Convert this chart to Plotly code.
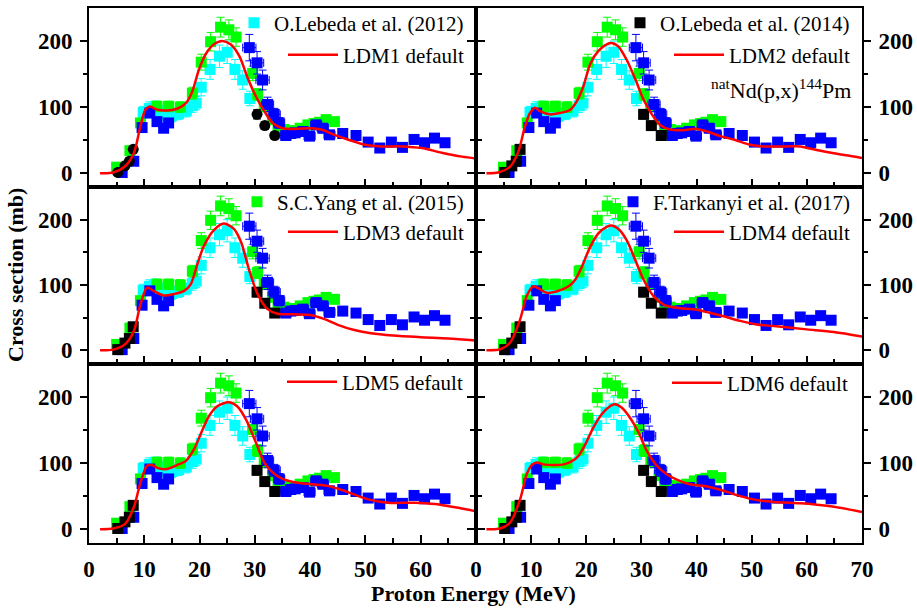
import plotly.graph_objects as go

# ---------------- data ----------------
# O.Lebeda et al. (2012) - cyan
E_leb12 = [9.8, 10.9, 11.9, 12.9, 13.9, 15.0, 16.2, 17.6, 18.7, 19.4, 20.3, 21.9, 23.6, 25.0, 26.4, 27.8, 29.1]
S_leb12 = [92, 98, 99, 94, 88, 87, 90, 94, 102, 106, 130, 157, 177, 183, 157, 141, 113]
ERR_leb12 = [9, 10, 10, 9, 9, 9, 9, 9, 10, 10, 13, 15, 17, 17, 15, 14, 11]

# O.Lebeda et al. (2014) - black
E_leb14 = [5.2, 6.5, 7.3, 8.0, 30.4, 31.8, 33.6]
S_leb14 = [1, 11, 18, 36, 89, 72, 57]
ERR_leb14 = [2, 2, 3, 4, 7, 6, 5]

# S.C.Yang et al. (2015) - green
E_yang = [5.0, 7.4, 9.3, 12.3, 14.4, 16.5, 18.7, 20.3, 22.0, 23.8, 25.3, 26.6, 29.6, 30.5, 31.7,
          33.2, 34.2, 35.2, 36.2, 37.2, 38.2, 39.6, 40.7, 41.7, 42.9, 44.4]
S_yang = [9, 34, 76, 101, 101, 100, 121, 168, 199, 221, 217, 206, 151, 119, 101,
          81, 72, 66, 64, 64, 68, 73, 75, 77, 81, 78]
ERR_yang = [4, 5, 6, 8, 8, 8, 9, 12, 14, 15, 15, 14, 11, 9, 8,
            6, 6, 5, 5, 5, 5, 6, 6, 6, 6, 6]

# F.Tarkanyi et al. (2017) - blue
E_tark = [6.0, 8.1, 9.6, 11.0, 12.3, 13.5, 14.4,
          29.0, 30.4, 31.4, 32.3, 33.5, 34.4, 35.6, 36.5, 37.3, 38.7, 39.9, 41.1, 42.3, 43.5,
          45.9, 48.3, 50.5, 52.6, 54.7, 56.7, 58.8, 60.7, 62.5, 64.4]
S_tark = [1, 18, 69, 91, 78, 68, 76,
          190, 167, 141, 104, 89, 76, 57, 60, 61, 63, 56, 73, 68, 58,
          60, 57, 47, 38, 47, 39, 51, 46, 53, 46]
ERRY_tark = [1, 2, 5, 6, 5, 5, 5,
             20, 17, 15, 11, 9, 8, 6, 6, 6, 6, 6, 7, 7, 6,
             6, 6, 5, 4, 5, 4, 5, 5, 5, 5]
ERRX_tark = [0, 0, 0, 0, 0, 0, 0,
             1.2, 1.2, 1.2, 1.1, 1.1, 1.0, 1.0, 1.0, 1.0, 1.0, 1.0, 1.0, 1.0, 1.0,
             0, 0, 0, 0, 0, 0, 0, 0, 0, 0]

# TALYS level density model curves
E_ldm1 = [2.0, 4.4, 6.5, 8.1, 9.3, 10.2, 11.1, 12.0, 13.5, 15.3, 16.8, 17.8, 18.7, 19.9, 21.1, 22.6, 24.1,
          25.6, 27.2, 28.7, 30.2, 31.7, 33.2, 35.0, 37.2, 40.2, 42.0, 44.4, 46.8, 49.9, 52.9, 56.5,
          60.2, 63.8, 67.5, 70.0]
S_ldm1 = [0, 1, 10, 30, 71, 96, 101, 97, 95, 96, 101, 109, 124, 157, 180, 195, 200,
          195, 177, 144, 116, 94, 76, 68, 67, 68, 66, 58, 51, 43, 40.5, 40.5,
          38, 31, 25, 22]

E_ldm2 = [1.9, 4.0, 6.2, 7.7, 8.9, 9.8, 10.7, 11.6, 13.4, 15.2, 17.1, 18.3, 19.5, 20.7, 22.2, 23.7, 24.6,
          25.8, 27.3, 28.9, 30.4, 31.9, 33.4, 35.2, 37.6, 40.0, 41.9, 44.3, 46.7, 49.7, 52.1, 56.4,
          58.8, 61.8, 64.9, 70.0]
S_ldm2 = [0, 1, 10, 33, 71, 91, 99, 94, 89, 91, 96, 109, 132, 165, 185, 195, 197,
          192, 172, 142, 111, 89, 73, 66, 65, 67, 63, 56, 51, 43, 40.5, 40.5,
          40.5, 35, 30, 23]

E_ldm3 = [2.0, 4.4, 6.5, 8.1, 9.3, 10.5, 11.7, 13.5, 15.3, 17.2, 18.4, 19.6, 20.8, 22.6, 24.4, 26.2,
          27.5, 29.0, 30.5, 32.3, 34.1, 37.0, 40.0, 42.5, 45.0, 48.0, 51.0, 55.0, 60.0, 65.0, 70.0]
S_ldm3 = [0, 1, 9, 29, 70, 96, 91, 84, 86, 91, 101, 132, 160, 184, 194, 186,
          166, 122, 86, 63, 56, 55, 54, 48, 39, 31, 26, 22.5, 20, 18, 15]

E_ldm4 = [1.9, 4.4, 6.2, 8.0, 9.2, 10.4, 11.3, 12.8, 14.6, 16.8, 18.0, 19.2, 20.7, 22.2, 23.7, 24.6,
          25.8, 27.3, 28.9, 30.4, 32.2, 34.0, 36.4, 40.0, 42.5, 44.9, 47.9, 50.9, 54.0, 60.0, 64.9, 70.0]
S_ldm4 = [0, 1.5, 12, 47, 83, 98, 95, 88, 90, 98, 108, 128, 158, 179, 189, 191,
          186, 169, 138, 108, 83, 70, 65, 62, 57, 52, 45, 39.5, 37, 32, 28, 21]

E_ldm5 = [2.0, 4.4, 6.5, 8.1, 9.3, 10.5, 11.4, 12.6, 14.1, 15.9, 17.5, 19.0, 20.2, 21.7, 23.2, 25.3,
          26.8, 28.4, 30.2, 31.7, 33.2, 35.0, 37.2, 40.2, 43.2, 46.2, 50.5, 54.1, 59.0, 62.6, 66.2, 70.0]
S_ldm5 = [0, 1, 7.5, 33, 70, 96, 97, 92, 91, 97, 103, 121, 144, 171, 186, 192,
          186, 166, 131, 101, 86, 76, 71, 68, 65.5, 58, 45, 40, 40, 38, 33, 27]

E_ldm6 = [1.9, 4.4, 6.2, 8.0, 9.2, 10.1, 11.0, 12.2, 14.0, 15.9, 17.4, 18.6, 19.8, 21.3, 22.8, 24.3,
          25.2, 26.4, 27.9, 29.5, 31.0, 32.8, 34.6, 36.4, 38.8, 41.9, 44.9, 47.9, 50.9, 54.0, 58.8,
          61.8, 64.9, 70.0]
S_ldm6 = [0, 1, 10, 45, 83, 97, 101, 98, 97, 98, 103, 111, 128, 154, 174, 186,
          189, 184, 169, 146, 118, 96, 83, 75, 68, 64.5, 58, 50, 44, 41, 39,
          37, 34, 26]

LDM_E = [E_ldm1, E_ldm2, E_ldm3, E_ldm4, E_ldm5, E_ldm6]
LDM_S = [S_ldm1, S_ldm2, S_ldm3, S_ldm4, S_ldm5, S_ldm6]
LDM_NAMES = ["LDM1 default", "LDM2 default", "LDM3 default", "LDM4 default", "LDM5 default", "LDM6 default"]

X_TICKS = [0, 10, 20, 30, 40, 50, 60, 70]
X_MINOR = [5, 15, 25, 35, 45, 55, 65]
Y_TICKS = [0, 100, 200]
Y_MINOR = [50, 150]

# ---------------- figure ----------------
FONT = "Liberation Serif"
CYAN, BLACK, GREEN, BLUE, RED = "#00FFFF", "#000000", "#00FF00", "#0000FF", "#FF0000"

NAME_leb12 = "O.Lebeda et al. (2012)"
NAME_leb14 = "O.Lebeda et al. (2014)"
NAME_yang = "S.C.Yang et al. (2015)"
NAME_tark = "F.Tarkanyi et al. (2017)"

fig = go.Figure()

XD = [[0, 0.5006], [0.5006, 1.0]]
YD = [[0.6654, 1.0], [0.3346, 0.6654], [0.0, 0.3346]]

dataset_legend_panel = {"leb12": 0, "leb14": 1, "yang": 2, "tark": 3}
legend_of_panel_marker = {0: "legend", 1: "legend3", 2: "legend5", 3: "legend7"}
legend_of_panel_line = {0: "legend2", 1: "legend4", 2: "legend6", 3: "legend8", 4: "legend9", 5: "legend10"}

MS = 11

for i in range(6):
    n = "" if i == 0 else str(i + 1)
    xa, ya = "x" + n, "y" + n

    def leg(key):
        p = dataset_legend_panel[key]
        return dict(showlegend=(p == i), legend=legend_of_panel_marker.get(i, "legend"))

    fig.add_trace(go.Scatter(
        x=E_leb12, y=S_leb12, mode="markers", name=NAME_leb12,
        marker=dict(symbol="square", size=MS, color=CYAN),
        error_y=dict(type="data", array=ERR_leb12, color=CYAN, thickness=1, width=4),
        xaxis=xa, yaxis=ya, **leg("leb12")))
    fig.add_trace(go.Scatter(
        x=E_yang, y=S_yang, mode="markers", name=NAME_yang,
        marker=dict(symbol="square", size=MS, color=GREEN),
        error_y=dict(type="data", array=ERR_yang, color=GREEN, thickness=1, width=4),
        xaxis=xa, yaxis=ya, **leg("yang")))
    fig.add_trace(go.Scatter(
        x=E_tark, y=S_tark, mode="markers", name=NAME_tark,
        marker=dict(symbol="square", size=MS, color=BLUE),
        error_y=dict(type="data", array=ERRY_tark, color=BLUE, thickness=1, width=4),
        error_x=dict(type="data", array=ERRX_tark, color=BLUE, thickness=1, width=4),
        xaxis=xa, yaxis=ya, **leg("tark")))
    fig.add_trace(go.Scatter(
        x=E_leb14, y=S_leb14, mode="markers", name=NAME_leb14,
        marker=dict(symbol="circle" if i == 0 else "square", size=MS, color=BLACK),
        error_y=dict(type="data", array=ERR_leb14, color=BLACK, thickness=1, width=4),
        xaxis=xa, yaxis=ya, **leg("leb14")))
    fig.add_trace(go.Scatter(
        x=LDM_E[i], y=LDM_S[i], mode="lines", name=LDM_NAMES[i],
        line=dict(color=RED, width=2.5, shape="spline", smoothing=0.8),
        xaxis=xa, yaxis=ya, showlegend=True, legend=legend_of_panel_line[i]))

    row, col = i // 2, i % 2
    bottom = row == 2
    xt = X_TICKS[:-1] if col == 0 else X_TICKS
    xaxis = dict(
        domain=XD[col], range=[0, 70], anchor=ya, automargin=False,
        showline=True, linecolor="black", linewidth=2, mirror=True,
        ticks="inside", ticklen=8, tickwidth=2, tickcolor="black",
        tickmode="array", tickvals=xt,
        minor=dict(tickmode="array", tickvals=X_MINOR, ticks="inside", ticklen=5, tickwidth=2, tickcolor="black"),
        showticklabels=bottom, ticklabelstandoff=4,
        tickfont=dict(family=FONT, size=23, color="black", weight="bold"),
        showgrid=False, zeroline=False)
    yaxis = dict(
        domain=YD[row], range=[-21, 250], anchor=xa, automargin=False,
        side="left" if col == 0 else "right",
        showline=True, linecolor="black", linewidth=2, mirror="allticks",
        ticks="outside", ticklen=7, tickwidth=2, tickcolor="black",
        tickmode="array", tickvals=Y_TICKS,
        minor=dict(tickmode="array", tickvals=Y_MINOR, ticks="outside", ticklen=4, tickwidth=2, tickcolor="black"),
        ticklabelstandoff=3,
        tickfont=dict(family=FONT, size=23, color="black", weight="bold"),
        showgrid=False, zeroline=False)
    fig.update_layout(**{"xaxis" + n: xaxis, "yaxis" + n: yaxis})


def px2paper_x(px):
    return (px - 89) / 773.0


def px2paper_y(py):
    return (543 - py) / 535.0


legend_pos = {
    "legend": (469, 23), "legend2": (469, 55),
    "legend3": (855, 23), "legend4": (855, 55),
    "legend5": (469, 202), "legend6": (469, 232),
    "legend7": (855, 202), "legend8": (855, 232),
    "legend9": (468, 382), "legend10": (853, 383),
}
for name, (lx, ly) in legend_pos.items():
    is_line = name in legend_of_panel_line.values()
    fig.update_layout(**{name: dict(
        x=px2paper_x(lx), y=px2paper_y(ly), xanchor="right", yanchor="middle",
        bgcolor="rgba(0,0,0,0)", borderwidth=0,
        font=dict(family=FONT, size=21, color="black"),
        itemwidth=50 if is_line else 30, tracegroupgap=0)})

fig.add_annotation(text="Cross section (mb)", xref="paper", yref="paper",
                   x=px2paper_x(15), y=px2paper_y(275), xanchor="center", yanchor="middle",
                   textangle=-90, showarrow=False,
                   font=dict(family=FONT, size=22, color="black", weight="bold"))
fig.add_annotation(text="Proton Energy (MeV)", xref="paper", yref="paper",
                   x=px2paper_x(473), y=px2paper_y(593), xanchor="center", yanchor="middle",
                   showarrow=False,
                   font=dict(family=FONT, size=22, color="black", weight="bold"))
fig.add_annotation(text="<sup>nat</sup>Nd(p,x)<sup>144</sup>Pm", xref="paper", yref="paper",
                   x=px2paper_x(853), y=px2paper_y(89), xanchor="right", yanchor="middle",
                   showarrow=False, font=dict(family=FONT, size=22, color="black"))

fig.update_layout(
    width=917, height=610,
    margin=dict(l=89, r=55, t=8, b=67, autoexpand=False),
    paper_bgcolor="white", plot_bgcolor="white",
)

fig.write_html("out.html")
